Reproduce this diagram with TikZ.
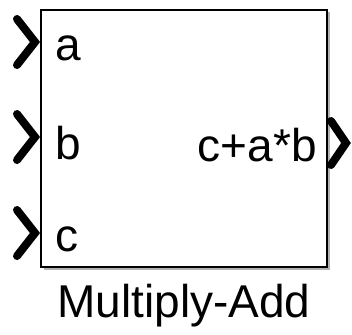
\documentclass[tikz,border=0pt]{standalone}
\usepackage{fontspec}
\setmainfont{Liberation Sans}
\begin{document}
\begin{tikzpicture}[
    x=1pt,
    y=-1pt,
    font=\fontsize{46}{52}\selectfont,
    block/.style={
        draw,
        line width=2.2pt,
        minimum width=286pt,
        minimum height=257pt,
        inner sep=0pt,
        fill=white
    },
    shade/.style={
        fill=black!30,
        draw=none,
        minimum width=286pt,
        minimum height=257pt,
        inner sep=0pt
    },
    chevron/.style={
        line width=8pt,
        line cap=round,
        line join=miter
    },
    portlabel/.style={
        inner sep=0pt,
        anchor=west
    }
]
    \useasboundingbox (0,0) rectangle (352,334);

    \node[shade] (madd-shadow) at (186.5,141) {};
    \node[block] (madd) at (184,138.5) {};

    % input ports
    \foreach \name/\y in {a/42,b/137,c/233} {
        \draw[chevron] (17,\y-23) -- (35,\y) -- (17,\y+23);
        \node[portlabel] (in-\name) at (55,\y+6) {\name};
    }

    % output port
    \draw[chevron] (331,121) -- (346,143) -- (331,165);
    \node[inner sep=0pt,anchor=east] (out) at (317,145) {c+a*b};

    \node (titulo) at (184,306) {Multiply-Add};
\end{tikzpicture}
\end{document}
